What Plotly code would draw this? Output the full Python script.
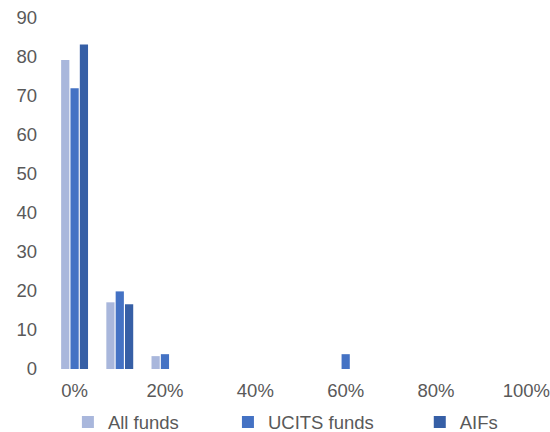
import plotly.graph_objects as go

# Share of funds by percentage bucket
categories = ["0%", "10%", "20%", "30%", "40%", "50%", "60%", "70%", "80%", "90%", "100%"]
all_funds = [79.2, 17.1, 3.3, 0, 0, 0, 0, 0, 0, 0, 0]
ucits_funds = [72.0, 19.9, 3.8, 0, 0, 0, 3.8, 0, 0, 0, 0]
aifs = [83.2, 16.6, 0, 0, 0, 0, 0, 0, 0, 0, 0]

tick_labels = ["0%", "20%", "40%", "60%", "80%", "100%"]
y_ticks = [0, 10, 20, 30, 40, 50, 60, 70, 80, 90]

series = [
    ("All funds", all_funds, "#A9B7DC", "legend"),
    ("UCITS funds", ucits_funds, "#4472C4", "legend2"),
    ("AIFs", aifs, "#365FA6", "legend3"),
]

font_family = "Liberation Sans, Arial, sans-serif"
grey = "#595959"

fig = go.Figure()
for name, vals, color, leg in series:
    fig.add_trace(go.Bar(
        x=categories, y=vals, name=name, legend=leg, showlegend=True,
        marker=dict(color=color, line=dict(width=0)),
    ))

legend_common = dict(
    visible=True, orientation="h", yref="container", yanchor="middle", y=0.022,
    xanchor="left",
    font=dict(family=font_family, size=18.5, color=grey),
    bgcolor="rgba(0,0,0,0)", borderwidth=0,
)

fig.update_layout(
    width=550, height=432,
    margin=dict(l=52, r=1, t=18, b=63, autoexpand=False),
    paper_bgcolor="white", plot_bgcolor="white",
    barmode="group", bargap=0.38, bargroupgap=0.12,
    showlegend=True,
    font=dict(family=font_family, size=18.5, color=grey),
    legend=dict(x=0.032, **legend_common),
    legend2=dict(x=0.354, **legend_common),
    legend3=dict(x=0.740, **legend_common),
    xaxis=dict(
        type="category", categoryorder="array", categoryarray=categories,
        tickvals=tick_labels, ticktext=tick_labels,
        showgrid=False, showline=False, zeroline=False, ticks="",
        ticklabelstandoff=8,
        tickfont=dict(family=font_family, size=18.5, color=grey),
    ),
    yaxis=dict(
        range=[0, 90], tickvals=y_ticks,
        showgrid=False, showline=False, zeroline=False, ticks="",
        ticklabelstandoff=14,
        tickfont=dict(family=font_family, size=18.5, color=grey),
    ),
)

fig.write_html("out.html")
